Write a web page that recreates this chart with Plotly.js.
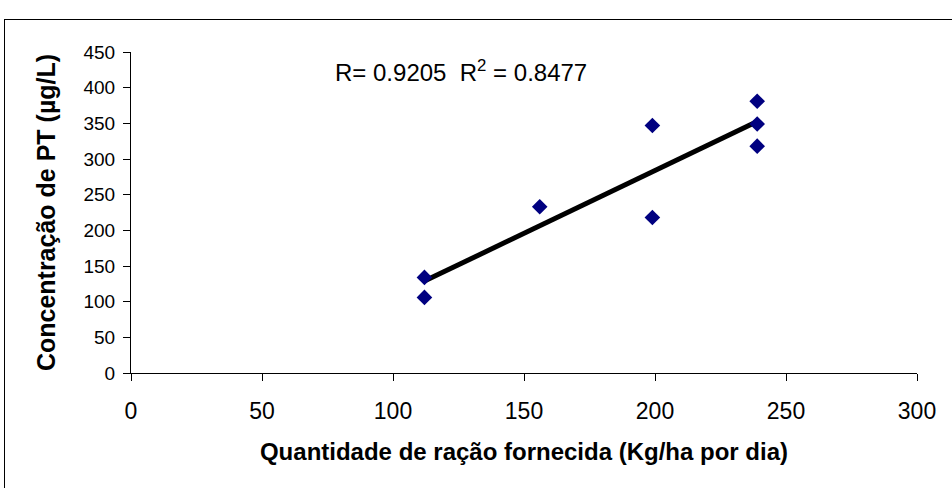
<!DOCTYPE html>
<html>
<head>
<meta charset="utf-8">
<script src="https://cdn.plot.ly/plotly-3.0.1.min.js"></script>
<style>
  html, body { margin: 0; padding: 0; background: #fff; }
  #wrap { position: relative; width: 952px; height: 488px; overflow: hidden; }
  #frame { position: absolute; left: 4px; top: 19px; width: 1000px; height: 1000px;
           border-left: 1px solid #000; border-top: 1px solid #000; pointer-events: none; }
  #chart { position: absolute; left: 0; top: 0; width: 952px; height: 488px; }
</style>
</head>
<body>
<div id="wrap">
  <div id="chart"></div>
  <div id="frame"></div>
</div>
<script>
// Data
const racao = [112, 112, 156, 199, 199, 239, 239, 239];
const concPT = [134, 106, 233, 347, 218, 381, 349, 318];
const xTickVals = [0, 50, 100, 150, 200, 250, 300];
const yTickVals = [0, 50, 100, 150, 200, 250, 300, 350, 400, 450];
const annotationText = "R= 0.9205  R<sup>2</sup> = 0.8477";
const xTitle = "Quantidade de ração fornecida (Kg/ha por dia)";
const yTitle = "Concentração de PT (µg/L)";

// Least-squares trend line computed from the data
const n = racao.length;
const mx = racao.reduce((a, b) => a + b, 0) / n;
const my = concPT.reduce((a, b) => a + b, 0) / n;
let sxy = 0, sxx = 0;
for (let i = 0; i < n; i++) { sxy += (racao[i] - mx) * (concPT[i] - my); sxx += (racao[i] - mx) ** 2; }
const slope = sxy / sxx, intercept = my - slope * mx;
const xMin = Math.min(...racao), xMax = Math.max(...racao);
const trendX = [xMin, xMax];
const trendY = trendX.map(v => intercept + slope * v);

const font = "Liberation Sans, Arial, sans-serif";

const traces = [
  { x: trendX, y: trendY, mode: "lines", type: "scatter",
    line: { color: "#000000", width: 5 }, hoverinfo: "skip" },
  { x: racao, y: concPT, mode: "markers", type: "scatter",
    marker: { symbol: "diamond", size: 12, color: "#000080" } }
];

const layout = {
  width: 952, height: 488,
  margin: { l: 131, r: 35, t: 52, b: 115 },
  paper_bgcolor: "rgba(0,0,0,0)", plot_bgcolor: "rgba(0,0,0,0)",
  showlegend: false,
  font: { family: font, color: "#000", size: 19 },
  xaxis: {
    range: [0, 300], tickvals: xTickVals, showgrid: false, zeroline: false,
    showline: true, linecolor: "#000", linewidth: 1,
    ticks: "outside", ticklen: 7, tickcolor: "#000", tickwidth: 1,
    ticklabelstandoff: 10,
    tickfont: { family: font, size: 23, color: "#000" },
    title: { text: "<b>" + xTitle + "</b>", standoff: 20,
             font: { family: font, size: 24, color: "#000" } }
  },
  yaxis: {
    range: [0, 450], tickvals: yTickVals, showgrid: false, zeroline: false,
    showline: true, linecolor: "#000", linewidth: 1,
    ticks: "outside", ticklen: 7, tickcolor: "#000", tickwidth: 1,
    ticklabelstandoff: 4,
    tickfont: { family: font, size: 19, color: "#000" },
    title: { text: "<b>" + yTitle + "</b>", standoff: 20,
             font: { family: font, size: 25, color: "#000" } }
  },
  annotations: [{
    x: 125.8, y: 424, xref: "x", yref: "y", text: annotationText,
    showarrow: false, xanchor: "center", yanchor: "middle",
    font: { family: font, size: 24, color: "#000" }
  }]
};

Plotly.newPlot("chart", traces, layout, { displayModeBar: false, staticPlot: true });
</script>
</body>
</html>
